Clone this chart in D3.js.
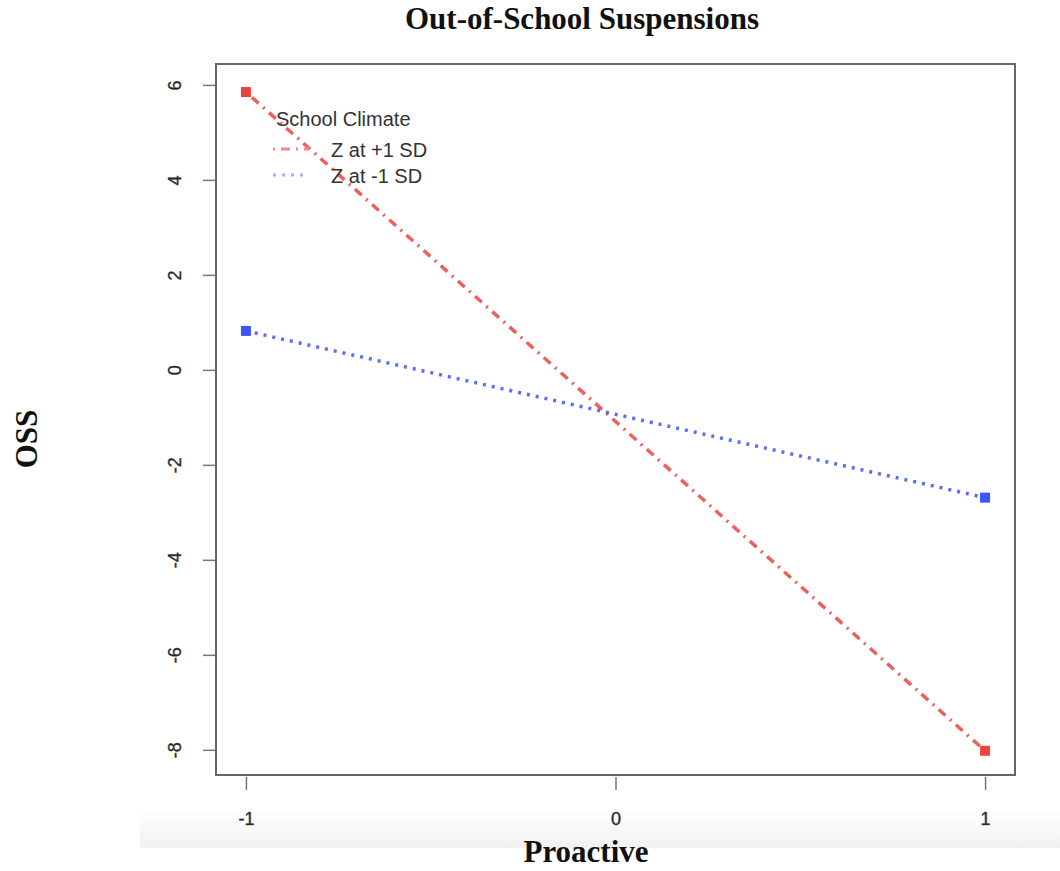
<!DOCTYPE html>
<html>
<head>
<meta charset="utf-8">
<script src="https://cdn.jsdelivr.net/npm/d3@7"></script>
<style>
body { margin: 0; background: white; }
svg { display: block; }
</style>
</head>
<body>
<svg width="1060" height="871"></svg>
<script>
// values
var xValues = [-1, 1];
var highZ = [5.85, -8.02];   // Z at +1 SD
var lowZ = [0.82, -2.69];    // Z at -1 SD
var xTicks = [-1, 0, 1];
var yTicks = [6, 4, 2, 0, -2, -4, -6, -8];
var seriesNames = ['Z at +1 SD', 'Z at -1 SD'];

var svg = d3.select('svg');
var plotLeft = 216, plotRight = 1015, plotTop = 64, plotBottom = 775;

var x = d3.scaleLinear().domain([-1.081, 1.081]).range([plotLeft, plotRight]);
var y = d3.scaleLinear().domain([6.44, -8.53]).range([plotTop, plotBottom]);
var fmt = function (d) { return String(d); };

// faint grey band from the screenshot
var grad = svg.append('defs').append('linearGradient')
    .attr('id', 'band').attr('x1', 0).attr('y1', 0).attr('x2', 0).attr('y2', 1);
grad.append('stop').attr('offset', '0%').attr('stop-color', '#ffffff');
grad.append('stop').attr('offset', '100%').attr('stop-color', '#f1f1f1');
svg.append('rect').attr('x', 140).attr('y', 808).attr('width', 920).attr('height', 40)
    .attr('fill', 'url(#band)');

// axes
var yAxis = d3.axisLeft(y).tickValues(yTicks).tickSize(13).tickFormat(fmt);
var gy = svg.append('g').attr('transform', 'translate(' + plotLeft + ',0)').call(yAxis);
gy.select('.domain').remove();
gy.selectAll('line').attr('stroke', '#777').attr('stroke-width', 1.5);
gy.selectAll('.tick text')
    .attr('font-family', 'Liberation Sans, Arial, sans-serif').attr('font-size', 18)
    .attr('fill', '#222').attr('stroke', '#444').attr('stroke-width', 0.4)
    .attr('x', 0).attr('y', 0).attr('dy', 0).attr('text-anchor', 'middle')
    .attr('transform', 'translate(-35,0) rotate(-90)');

var xAxis = d3.axisBottom(x).tickValues(xTicks).tickSize(13).tickPadding(22).tickFormat(fmt);
var gx = svg.append('g').attr('transform', 'translate(0,' + (plotBottom + 2) + ')').call(xAxis);
gx.select('.domain').remove();
gx.selectAll('line').attr('stroke', '#777').attr('stroke-width', 1.5);
gx.selectAll('text')
    .attr('font-family', 'Liberation Sans, Arial, sans-serif').attr('font-size', 18)
    .attr('fill', '#222').attr('stroke', '#444').attr('stroke-width', 0.4);

// plot box
svg.append('rect').attr('x', plotLeft).attr('y', plotTop)
    .attr('width', plotRight - plotLeft).attr('height', plotBottom - plotTop)
    .attr('fill', 'none').attr('stroke', '#666').attr('stroke-width', 2);

// lines
var series = [
    {values: highZ, color: '#e8453f', dash: '2,6,9,6', light: '#f08a86'},
    {values: lowZ, color: '#3d55f5', dash: '3,6', light: '#a7aefc'}
];
var line = d3.line().x(function (d, i) { return x(xValues[i]); }).y(function (d) { return y(d); });

series.forEach(function (s) {
    svg.append('path').datum(s.values).attr('d', line)
        .attr('fill', 'none').attr('stroke', s.color).attr('stroke-width', 3.5)
        .attr('stroke-dasharray', s.dash).attr('opacity', 0.85);
    svg.selectAll(null).data(s.values).enter().append('rect')
        .attr('x', function (d, i) { return x(xValues[i]) - 5; })
        .attr('y', function (d) { return y(d) - 5; })
        .attr('width', 10).attr('height', 10)
        .attr('fill', s.color);
});

// legend
var lg = svg.append('g').attr('font-family', 'Liberation Sans, Arial, sans-serif').attr('font-size', 20).attr('fill', '#333');
lg.append('text').attr('x', 276).attr('y', 126).text('School Climate');
series.forEach(function (s, i) {
    var ly = 149 + i * 26;
    lg.append('line').attr('x1', 273).attr('x2', 309).attr('y1', ly).attr('y2', ly)
        .attr('stroke', s.light).attr('stroke-width', 3).attr('stroke-dasharray', s.dash);
    lg.append('text').attr('x', 331).attr('y', ly + 8).text(seriesNames[i]);
});

// titles
svg.append('text').attr('x', 582).attr('y', 29).attr('text-anchor', 'middle')
    .attr('font-family', 'Liberation Serif, Times New Roman, serif').attr('font-weight', 'bold').attr('font-size', 31)
    .attr('fill', '#111').text('Out-of-School Suspensions');
svg.append('text').attr('x', 586).attr('y', 862).attr('text-anchor', 'middle')
    .attr('font-family', 'Liberation Serif, Times New Roman, serif').attr('font-weight', 'bold').attr('font-size', 31)
    .attr('fill', '#111').text('Proactive');
svg.append('text').attr('transform', 'translate(37,439) rotate(-90)').attr('text-anchor', 'middle')
    .attr('font-family', 'Liberation Serif, Times New Roman, serif').attr('font-weight', 'bold').attr('font-size', 31)
    .attr('fill', '#111').text('OSS');
</script>
</body>
</html>
